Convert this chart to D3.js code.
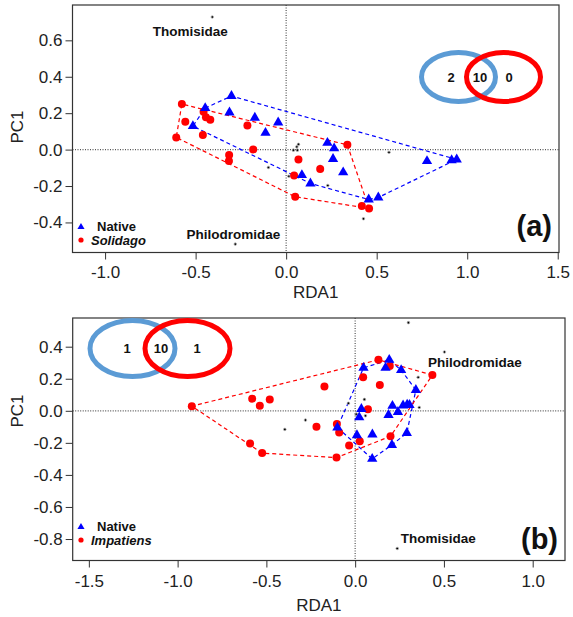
<!DOCTYPE html>
<html><head><meta charset="utf-8">
<script src="https://cdn.jsdelivr.net/npm/d3@7"></script>
<style>body{margin:0;background:#fff} text{font-family:"Liberation Sans",Arial,sans-serif}</style>
</head><body><svg id="c" width="573" height="617"></svg>
<script>
// ---------- DATA ----------
// Panel (a): Native vs Solidago
const nativeA = [[-0.302,0.294],[-0.447,0.228],[-0.313,0.204],[-0.515,0.129],[-0.173,0.175],[-0.044,0.149],
  [-0.114,0.092],[0.228,0.037],[0.265,0.007],[0.259,-0.052],[0.315,-0.125],[0.087,-0.140],[0.134,-0.186],
  [0.456,-0.274],[0.509,-0.263],[0.778,-0.063],[0.914,-0.058],[0.942,-0.054]];
const solidagoA = [[-0.576,0.250],[-0.607,0.067],[-0.557,0.153],[-0.456,0.208],[-0.443,0.177],[-0.419,0.164],
  [-0.460,0.080],[-0.214,0.133],[-0.182,0.001],[-0.315,-0.030],[-0.316,-0.062],[0.068,-0.054],[0.188,-0.107],
  [0.044,-0.142],[0.050,-0.259],[0.338,0.026],[0.418,-0.310],[0.458,-0.323]];
const speciesA = [[0.068,0.029],[0.059,0.015],[0.040,-0.003],[0.062,-0.003],[-0.098,-0.098],[0.015,-0.146],
  [0.188,-0.091],[0.230,-0.197],[0.568,-0.015],[0.427,-0.380],[-0.408,0.728],[-0.281,-0.519]];
const speciesLabelsA = [{name:"Thomisidae",x:-0.530,y:0.624,anchor:"middle"},
  {name:"Philodromidae",x:-0.292,y:-0.492,anchor:"middle"}];
const vennCountsA = ["2","10","0"];
const xTicksA = [-1.0,-0.5,0.0,0.5,1.0,1.5];
const yTicksA = [-0.4,-0.2,0.0,0.2,0.4,0.6];

// Panel (b): Native vs Impatiens
const nativeB = [[0.192,0.318],[0.171,0.268],[0.047,0.268],[0.259,0.254],[0.342,0.130],[0.210,0.031],
  [0.270,0.033],[0.293,0.038],[0.306,0.036],[0.188,-0.026],[0.241,-0.007],[0.035,0.011],[0.023,-0.041],
  [0.291,-0.138],[0.097,-0.148],[0.010,-0.152],[0.207,-0.213],[-0.100,-0.104],[0.096,-0.300]];
const impatiensB = [[-0.920,0.029],[-0.580,0.075],[-0.537,0.031],[-0.481,0.071],[-0.173,0.152],[-0.218,-0.100],
  [-0.103,-0.083],[-0.090,-0.135],[-0.592,-0.204],[-0.524,-0.264],[-0.105,-0.292],[-0.034,-0.216],[0.026,-0.190],
  [0.045,0.209],[0.072,0.009],[0.131,0.318],[0.195,0.280],[0.139,0.161],[0.435,0.223],[0.199,-0.159]];
const speciesB = [[0.300,0.550],[0.503,0.367],[0.355,0.209],[0.052,0.071],[-0.038,0.047],[0.361,0.021],
  [0.006,-0.021],[0.058,-0.031],[-0.396,-0.116],[-0.280,-0.058],[0.237,-0.859]];
const speciesLabelsB = [{name:"Philodromidae",x:0.411,y:0.273,anchor:"start"},
  {name:"Thomisidae",x:0.468,y:-0.827,anchor:"middle"}];
const vennCountsB = ["1","10","1"];
const xTicksB = [-1.5,-1.0,-0.5,0.0,0.5,1.0];
const yTicksB = [-0.8,-0.6,-0.4,-0.2,0.0,0.2,0.4];

// ---------- LAYOUT ----------
const svg = d3.select("#c");
svg.append("rect").attr("width",573).attr("height",617).attr("fill","#fff");

const panels = [
  {native:nativeA, inv:solidagoA, invName:"Solidago", species:speciesA, labels:speciesLabelsA,
   xTicks:xTicksA, yTicks:yTicksA, xDom:[-1.18,1.507], yDom:[-0.565,0.794],
   left:72.5, right:559, top:5, bottom:252.5, tag:"(a)", tagY:236,
   venn:{cx:481, cy:77, rx:37, ry:24.5, counts:vennCountsA, sep:45, tx:[-30,-1,28]},
   legend:{x:81, y:227}, xLabY:298, tickLabY:278, pcY:127},
  {native:nativeB, inv:impatiensB, invName:"Impatiens", species:speciesB, labels:speciesLabelsB,
   xTicks:xTicksB, yTicks:yTicksB, xDom:[-1.591,1.182], yDom:[-0.934,0.579],
   left:72.7, right:565, top:318, bottom:560.5, tag:"(b)", tagY:549,
   venn:{cx:160, cy:348.5, rx:42.5, ry:28, counts:vennCountsB, sep:55, tx:[-33,1,37]},
   legend:{x:81, y:527}, xLabY:611, tickLabY:587, pcY:411}
];

const BLUE = "#0000ff", RED = "#ff0000", VBLUE = "#5b9bd5";

panels.forEach(p => {
  const g = svg.append("g");
  const x = d3.scaleLinear().domain(p.xDom).range([p.left,p.right]);
  const y = d3.scaleLinear().domain(p.yDom).range([p.bottom,p.top]);

  // zero lines
  g.append("line").attr("x1",p.left).attr("x2",p.right).attr("y1",y(0)).attr("y2",y(0))
    .attr("stroke","#555").attr("stroke-dasharray","1,1.5").attr("stroke-width",1.2);
  g.append("line").attr("x1",x(0)).attr("x2",x(0)).attr("y1",p.top).attr("y2",p.bottom)
    .attr("stroke","#555").attr("stroke-dasharray","1,1.5").attr("stroke-width",1.2);

  // axes
  const xa = g.append("g").attr("transform",`translate(0,${p.bottom})`)
    .call(d3.axisBottom(x).tickValues(p.xTicks).tickFormat(d3.format(".1f")).tickSize(7).tickSizeOuter(0));
  xa.select(".domain").remove();
  xa.selectAll("text").attr("font-size",17).attr("fill","#222").attr("dy",null).attr("y",null)
    .attr("transform",`translate(0,${p.tickLabY-p.bottom})`);
  const ya = g.append("g").attr("transform",`translate(${p.left},0)`)
    .call(d3.axisLeft(y).tickValues(p.yTicks).tickFormat(d3.format(".1f")).tickSize(7).tickSizeOuter(0));
  ya.select(".domain").remove();
  ya.selectAll("text").attr("font-size",17).attr("fill","#222").attr("x",-10);
  g.selectAll(".tick line").attr("stroke","#333");
  g.selectAll(".tick text").text(d => d3.format(".1f")(d).replace("−","-"));

  g.append("rect").attr("x",p.left).attr("y",p.top).attr("width",p.right-p.left).attr("height",p.bottom-p.top)
    .attr("fill","none").attr("stroke","#333").attr("stroke-width",1.2);

  g.append("text").attr("x",(p.left+p.right)/2).attr("y",p.xLabY).attr("text-anchor","middle")
    .attr("font-size",17).attr("fill","#222").text("RDA1");
  g.append("text").attr("transform",`translate(23,${p.pcY}) rotate(-90)`).attr("text-anchor","middle")
    .attr("font-size",17).attr("fill","#222").text("PC1");

  // hulls
  const hull = (pts,col) => {
    const h = d3.polygonHull(pts.map(d=>[x(d[0]),y(d[1])]));
    g.append("path").attr("d","M"+h.join("L")+"Z").attr("fill","none").attr("stroke",col)
      .attr("stroke-width",1.2).attr("stroke-dasharray","4,3");
  };
  hull(p.native,BLUE); hull(p.inv,RED);

  // species points
  g.selectAll(".sp").data(p.species).join("circle").attr("cx",d=>x(d[0])).attr("cy",d=>y(d[1]))
    .attr("r",1.3).attr("fill","#000").attr("stroke","#bbb").attr("stroke-width",0.8);

  // invasive dots
  g.selectAll(".inv").data(p.inv).join("circle").attr("cx",d=>x(d[0])).attr("cy",d=>y(d[1]))
    .attr("r",4).attr("fill",RED);
  // native triangles
  const tri = d3.symbol(d3.symbolTriangle).size(46);
  g.selectAll(".nat").data(p.native).join("path").attr("d",tri)
    .attr("transform",d=>`translate(${x(d[0])},${y(d[1])})`).attr("fill",BLUE);

  // species labels
  p.labels.forEach(l => g.append("text").attr("x",x(l.x)).attr("y",y(l.y)).attr("text-anchor",l.anchor)
    .attr("font-size",13.5).attr("font-weight","bold").attr("fill","#111").text(l.name));

  // legend
  const L = p.legend;
  g.append("path").attr("d",d3.symbol(d3.symbolTriangle).size(22)).attr("transform",`translate(${L.x},${L.y})`).attr("fill",BLUE);
  g.append("circle").attr("cx",L.x).attr("cy",L.y+13).attr("r",2.6).attr("fill",RED);
  g.append("text").attr("x",L.x+16).attr("y",L.y+4).attr("font-size",13).attr("font-weight","bold").attr("fill","#111").text("Native");
  g.append("text").attr("x",L.x+10).attr("y",L.y+18).attr("font-size",13).attr("font-weight","bold")
    .attr("font-style","italic").attr("fill","#111").text(p.invName);

  // panel tag
  g.append("text").attr("x",p.right-7).attr("y",p.tagY).attr("text-anchor","end")
    .attr("font-size",29).attr("font-weight","bold").attr("fill","#111").text(p.tag);

  // venn
  const V = p.venn;
  g.append("ellipse").attr("cx",V.cx-V.sep/2).attr("cy",V.cy).attr("rx",V.rx).attr("ry",V.ry)
    .attr("fill","none").attr("stroke",VBLUE).attr("stroke-width",5);
  g.append("ellipse").attr("cx",V.cx+V.sep/2).attr("cy",V.cy).attr("rx",V.rx).attr("ry",V.ry)
    .attr("fill","none").attr("stroke",RED).attr("stroke-width",5);
  V.tx.forEach((dx,i)=>{
    g.append("text").attr("x",V.cx+dx).attr("y",V.cy+4.5).attr("text-anchor","middle")
      .attr("font-size",13).attr("font-weight","bold").attr("fill","#111").text(V.counts[i]);
  });
});
</script></body></html>
